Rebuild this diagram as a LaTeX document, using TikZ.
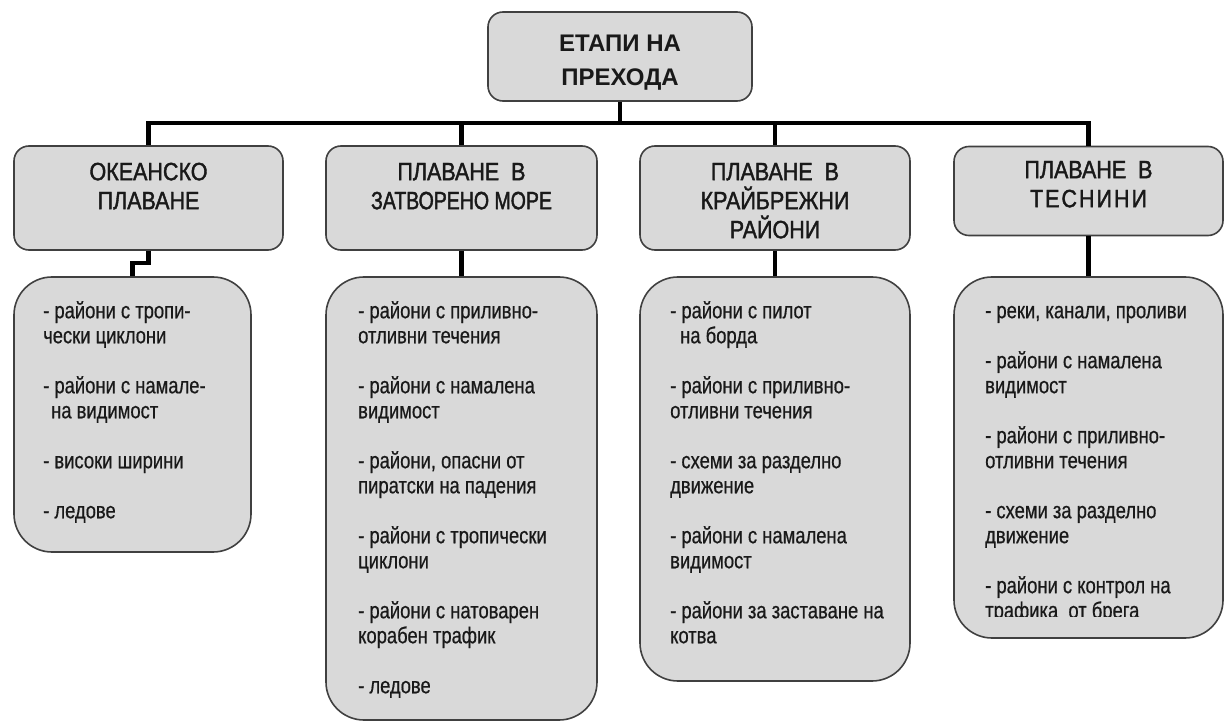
\documentclass[tikz,border=0pt]{standalone}
\usepackage{fontspec}
\setmainfont{Liberation Sans}
\newfontfamily\bodyf[FakeStretch=0.8,FakeBold=0.6]{Liberation Sans}
\newfontfamily\headf[FakeStretch=0.86,FakeBold=1.6]{Liberation Sans}
\definecolor{boxfill}{HTML}{D9D9D9}
\definecolor{boxline}{HTML}{404040}
\begin{document}
\begin{tikzpicture}[x=1bp,y=-1bp,
  lvl/.style={draw=boxline, line width=1.6bp, fill=boxfill, rounded corners=15bp, inner sep=0},
  leaf/.style={draw=boxline, line width=1.6bp, fill=boxfill, rounded corners=38bp, inner sep=0},
  conn/.style={line width=4.5bp, black},
  headtxt/.style={anchor=north, inner sep=0, align=center, text=black!90, font=\headf\fontsize{25bp}{29bp}\selectfont},
  toptxt/.style={anchor=north, inner sep=0, align=center, text=black!90, font=\bfseries\fontsize{24bp}{34bp}\selectfont},
  bodytxt/.style={anchor=north west, inner sep=0, align=left, text=black!90, font=\bodyf\fontsize{23bp}{25bp}\selectfont}]
\useasboundingbox (0,0) rectangle (1226,722);

% boxes (shapes only)
\node[lvl, minimum width=264bp, minimum height=89bp] (top) at (620,56.5) {};
\node[lvl, minimum width=269bp, minimum height=104bp] (b1) at (148.5,198) {};
\node[lvl, minimum width=271bp, minimum height=104bp] (b2) at (461.5,198) {};
\node[lvl, minimum width=270bp, minimum height=104bp] (b3) at (775,198) {};
\node[lvl, minimum width=269bp, minimum height=89bp] (b4) at (1088.5,191) {};
\node[leaf, minimum width=237bp, minimum height=275bp] (c1) at (132.5,414.5) {};
\node[leaf, minimum width=271bp, minimum height=443bp] (c2) at (461.5,498.5) {};
\node[leaf, minimum width=270bp, minimum height=404bp] (c3) at (775,479) {};
\node[leaf, minimum width=269bp, minimum height=361bp] (c4) at (1088.5,457.5) {};

% connectors
\coordinate (bar) at (0,123);
\coordinate (k1) at (140,263);
\draw[conn] (top.south) -- (top.south |- bar);
\draw[conn] (b1.north) -- (b1.north |- bar) -- (b4.north |- bar) -- (b4.north);
\draw[conn] (b2.north |- bar) -- (b2.north);
\draw[conn] (b3.north |- bar) -- (b3.north);
\draw[conn] (b1.south) -- (b1.south |- k1) -- (c1.north |- k1) -- (c1.north);
\draw[conn] (b2.south) -- (c2.north);
\draw[conn] (b3.south) -- (c3.north);
\draw[conn] (b4.south) -- (c4.north);

% titles
\node[toptxt] (ttop) at (620,31) {\rule{0pt}{20bp}ЕТАПИ НА\\ПРЕХОДА};
\node[headtxt] (h1) at (148.5,160) {\rule{0pt}{20bp}ОКЕАНСКО\\ПЛАВАНЕ};
\node[headtxt] (h2) at (461.5,160) {\rule{0pt}{20bp}ПЛАВАНЕ\ \ В\\{\addfontfeature{FakeStretch=0.78}ЗАТВОРЕНО МОРЕ}};
\node[headtxt] (h3) at (775,160) {\rule{0pt}{20bp}ПЛАВАНЕ\ \ В\\КРАЙБРЕЖНИ\\РАЙОНИ};
\node[headtxt] (h4) at (1088.5,158) {\rule{0pt}{20bp}ПЛАВАНЕ\ \ В\\{\addfontfeature{LetterSpace=8}ТЕСНИНИ}};

% lists
\node[bodytxt] (t1) at (43,301) {\rule{0pt}{17bp}- райони с тропи-\\чески циклони\\[25bp]
- райони с намале-\\\hspace*{8bp}на видимост\\[25bp]
- високи ширини\\[25bp]
- ледове};
\node[bodytxt] (t2) at (358,301) {\rule{0pt}{17bp}- райони с приливно-\\отливни течения\\[25bp]
- райони с намалена\\видимост\\[25bp]
- райони, опасни от\\пиратски на падения\\[25bp]
- райони с тропически\\циклони\\[25bp]
- райони с натоварен\\корабен трафик\\[25bp]
- ледове};
\node[bodytxt] (t3) at (670,301) {\rule{0pt}{17bp}- райони с пилот\\\hspace*{10bp}на борда\\[25bp]
- райони с приливно-\\отливни течения\\[25bp]
- схеми за разделно\\движение\\[25bp]
- райони с намалена\\видимост\\[25bp]
- райони за заставане на\\котва};
\begin{scope}
\clip (954,277) rectangle (1223,616);
\node[bodytxt] (t4) at (985,301) {\rule{0pt}{17bp}- реки, канали, проливи\\[25bp]
- райони с намалена\\видимост\\[25bp]
- райони с приливно-\\отливни течения\\[25bp]
- схеми за разделно\\движение\\[25bp]
- райони с контрол на\\трафика\ \ от брега};
\end{scope}
\end{tikzpicture}
\end{document}
